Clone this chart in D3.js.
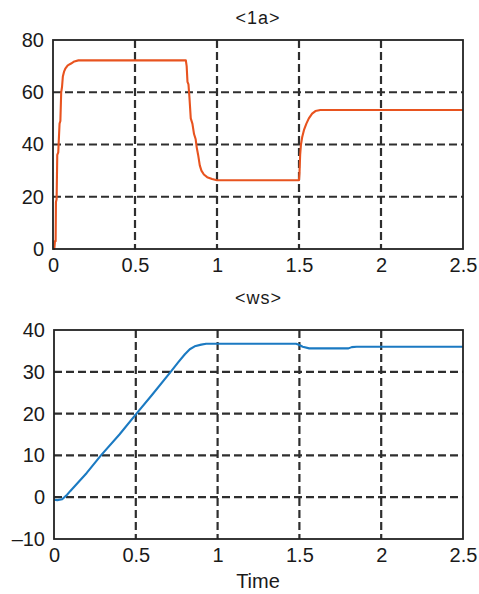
<!DOCTYPE html>
<html><head><meta charset="utf-8">
<script src="https://cdn.jsdelivr.net/npm/d3@7"></script>
<style>body{margin:0;background:#fff;} text{font-family:"Liberation Sans",Arial,Helvetica,sans-serif;fill:#1a1a1a;}</style>
</head><body>
<script>
// ---- data ----
const xTicks = [0, 0.5, 1, 1.5, 2, 2.5];
const xTickLabels = ["0", "0.5", "1", "1.5", "2", "2.5"];
const iaTitle = "<1a>";
const iaYTicks = [0, 20, 40, 60, 80];
const iaYTickLabels = ["0", "20", "40", "60", "80"];
const iaTime = [0, 0.008, 0.012, 0.016, 0.018, 0.022, 0.026, 0.032, 0.04, 0.045, 0.05, 0.055, 0.06, 0.068, 0.075, 0.09, 0.11, 0.13, 0.155, 0.4, 0.6, 0.81, 0.815, 0.82, 0.826, 0.832, 0.84, 0.85, 0.86, 0.87, 0.876, 0.885, 0.895, 0.905, 0.92, 0.94, 0.97, 1.0, 1.2, 1.4, 1.5, 1.503, 1.507, 1.512, 1.52, 1.53, 1.545, 1.56, 1.58, 1.6, 1.63, 1.8, 2.0, 2.2, 2.5];
const iaValue = [0, 0, 3, 3, 18, 19, 36, 37, 48, 49, 60, 62, 66, 68, 69, 70.3, 71, 71.8, 72.2, 72.2, 72.2, 72.2, 70, 64, 63, 58, 50, 48, 44, 42, 39, 36, 32, 30, 28.5, 27.5, 26.8, 26.3, 26.3, 26.3, 26.3, 29, 36, 40, 43, 45.5, 48, 50, 51.8, 52.8, 53.2, 53.2, 53.2, 53.2, 53.2];
const wsTitle = "<ws>";
const wsYTicks = [-10, 0, 10, 20, 30, 40];
const wsYTickLabels = ["\u201310", "0", "10", "20", "30", "40"];
const wsTime = [0, 0.02, 0.05, 0.08, 0.1, 0.2, 0.287, 0.4, 0.504, 0.6, 0.713, 0.76, 0.8, 0.83, 0.86, 0.9, 0.93, 1.0, 1.2, 1.48, 1.5, 1.52, 1.56, 1.7, 1.8, 1.82, 1.85, 2.0, 2.2, 2.5];
const wsValue = [-0.6, -0.7, -0.5, 0.6, 1.5, 5.8, 10, 15, 20, 24.5, 30, 32.3, 34.2, 35.4, 36.1, 36.5, 36.7, 36.7, 36.7, 36.7, 36.4, 36.0, 35.6, 35.6, 35.6, 35.9, 36.0, 36.0, 36.0, 36.0];
const xLabel = "Time";

const W = 479, H = 594;
const svg = d3.select("body").append("svg").attr("width", W).attr("height", H);

function panel(opts) {
  const {left, right, top, bottom, yDomain, yTicks, yTickLabels, times, values, color, title, titleY} = opts;
  const x = d3.scaleLinear().domain([0, 2.5]).range([left, right]);
  const y = d3.scaleLinear().domain(yDomain).range([bottom, top]);
  const g = svg.append("g");
  g.append("rect").attr("x", left).attr("y", top).attr("width", right - left).attr("height", bottom - top).attr("fill", "#fff");
  // grid
  const gridStyle = s => s.attr("stroke", "#2e2e2e").attr("stroke-width", 2.2).attr("stroke-dasharray", "8,4");
  g.selectAll(".vg").data(xTicks.filter(t => t > 0 && t < 2.5)).join("line")
    .attr("x1", d => x(d)).attr("x2", d => x(d)).attr("y1", top).attr("y2", bottom).call(gridStyle);
  g.selectAll(".hg").data(yTicks.filter(t => t > yDomain[0] && t < yDomain[1])).join("line")
    .attr("x1", left).attr("x2", right).attr("y1", d => y(d)).attr("y2", d => y(d)).call(gridStyle);
  // line
  const data = times.map((t, i) => [t, values[i]]);
  g.append("path").datum(data).attr("fill", "none").attr("stroke", color).attr("stroke-width", 2.1)
    .attr("stroke-linejoin", "round")
    .attr("d", d3.line().x(d => x(d[0])).y(d => y(d[1])));
  // frame
  g.append("rect").attr("x", left).attr("y", top).attr("width", right - left).attr("height", bottom - top)
    .attr("fill", "none").attr("stroke", "#222").attr("stroke-width", 1.8);
  // axes labels
  const yAxis = d3.axisLeft(y).tickValues(yTicks).tickFormat((d, i) => yTickLabels[i]).tickSize(0).tickPadding(9);
  const ya = g.append("g").attr("transform", `translate(${left},0)`).call(yAxis);
  ya.select(".domain").remove();
  ya.selectAll("text").attr("font-size", 20).attr("font-family", "Liberation Sans, Arial, sans-serif").attr("fill", "#1a1a1a");
  const xAxis = d3.axisBottom(x).tickValues(xTicks).tickFormat((d, i) => xTickLabels[i]).tickSize(0).tickPadding(9);
  const xa = g.append("g").attr("transform", `translate(0,${bottom})`).call(xAxis);
  xa.select(".domain").remove();
  xa.selectAll("text").attr("font-size", 20).attr("font-family", "Liberation Sans, Arial, sans-serif").attr("fill", "#1a1a1a");
  g.append("text").attr("x", (left + right) / 2).attr("y", titleY).attr("text-anchor", "middle")
    .attr("font-size", 18).attr("letter-spacing", 1).text(title);
}

panel({left: 53, right: 463, top: 40, bottom: 249, yDomain: [0, 80], yTicks: iaYTicks, yTickLabels: iaYTickLabels,
  times: iaTime, values: iaValue, color: "#e8531f", title: iaTitle, titleY: 24});
panel({left: 54, right: 463, top: 330, bottom: 539, yDomain: [-10, 40], yTicks: wsYTicks, yTickLabels: wsYTickLabels,
  times: wsTime, values: wsValue, color: "#1b7ac2", title: wsTitle, titleY: 304});

svg.append("text").attr("x", 258).attr("y", 588).attr("text-anchor", "middle").attr("font-size", 20).text(xLabel);
</script>
</body></html>
